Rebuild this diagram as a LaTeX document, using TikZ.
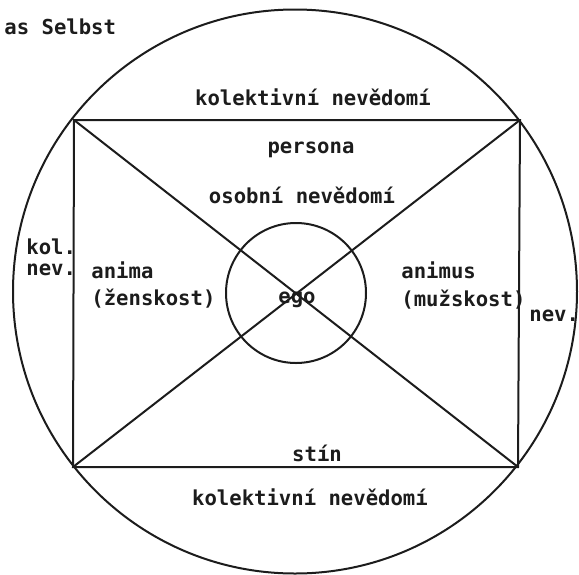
\documentclass[tikz,border=0pt]{standalone}
\usepackage{fontspec}
\setmonofont{DejaVu Sans Mono}
\usetikzlibrary{positioning,calc}
\definecolor{ink}{HTML}{1C1C1C}
\tikzset{
  lbl/.style={font=\ttfamily\bfseries\fontsize{10.3}{12}\selectfont,text=ink,inner sep=1pt},
  ln/.style={line width=1pt,draw=ink},
}
\begin{document}
\begin{tikzpicture}[x=0.5pt,y=-0.5pt]
  \useasboundingbox (0,0) rectangle (579,574);
  % outer circle (Selbst) and rectangle corners
  \coordinate (c) at (295,291.5);
  \coordinate (tl) at (74,120);
  \coordinate (tr) at (520,120);
  \coordinate (bl) at (73,467);
  \coordinate (br) at (518,467);
  \draw[ln] (c) circle[radius=282];
  \draw[ln] (tl) -- (tr) -- (br) -- (bl) -- cycle;
  \draw[ln] (tl) -- (br);
  \draw[ln] (tr) -- (bl);
  % ego circle
  \draw[ln] (296,293) circle[radius=70];
  % labels
  \node[lbl,anchor=west] (selbst) at (2,27) {as Selbst};
  \node[lbl] (kolt) at (313,97) {kolektivní nevědomí};
  \node[lbl] (persona) at (311,150) {persona};
  \node[lbl] (osobni) at (302,195) {osobní nevědomí};
  \node[lbl,anchor=west] (kol) at (24,247) {kol.};
  \node[lbl,anchor=west] (nevl) at (24,270) {nev.};
  \node[lbl,anchor=west] (anima) at (89,270) {anima};
  \node[lbl,anchor=west] (zen) at (89,299) {(ženskost)};
  \node[lbl] (ego) at (297,300) {ego};
  \node[lbl,anchor=west] (animus) at (399,270) {animus};
  \node[lbl,anchor=west] (muz) at (399,300) {(mužskost)};
  \node[lbl,anchor=west] (nevr) at (527,316) {nev.};
  \node[lbl] (stin) at (317,453) {stín};
  \node[lbl] (kolb) at (310,497) {kolektivní nevědomí};
\end{tikzpicture}
\end{document}
